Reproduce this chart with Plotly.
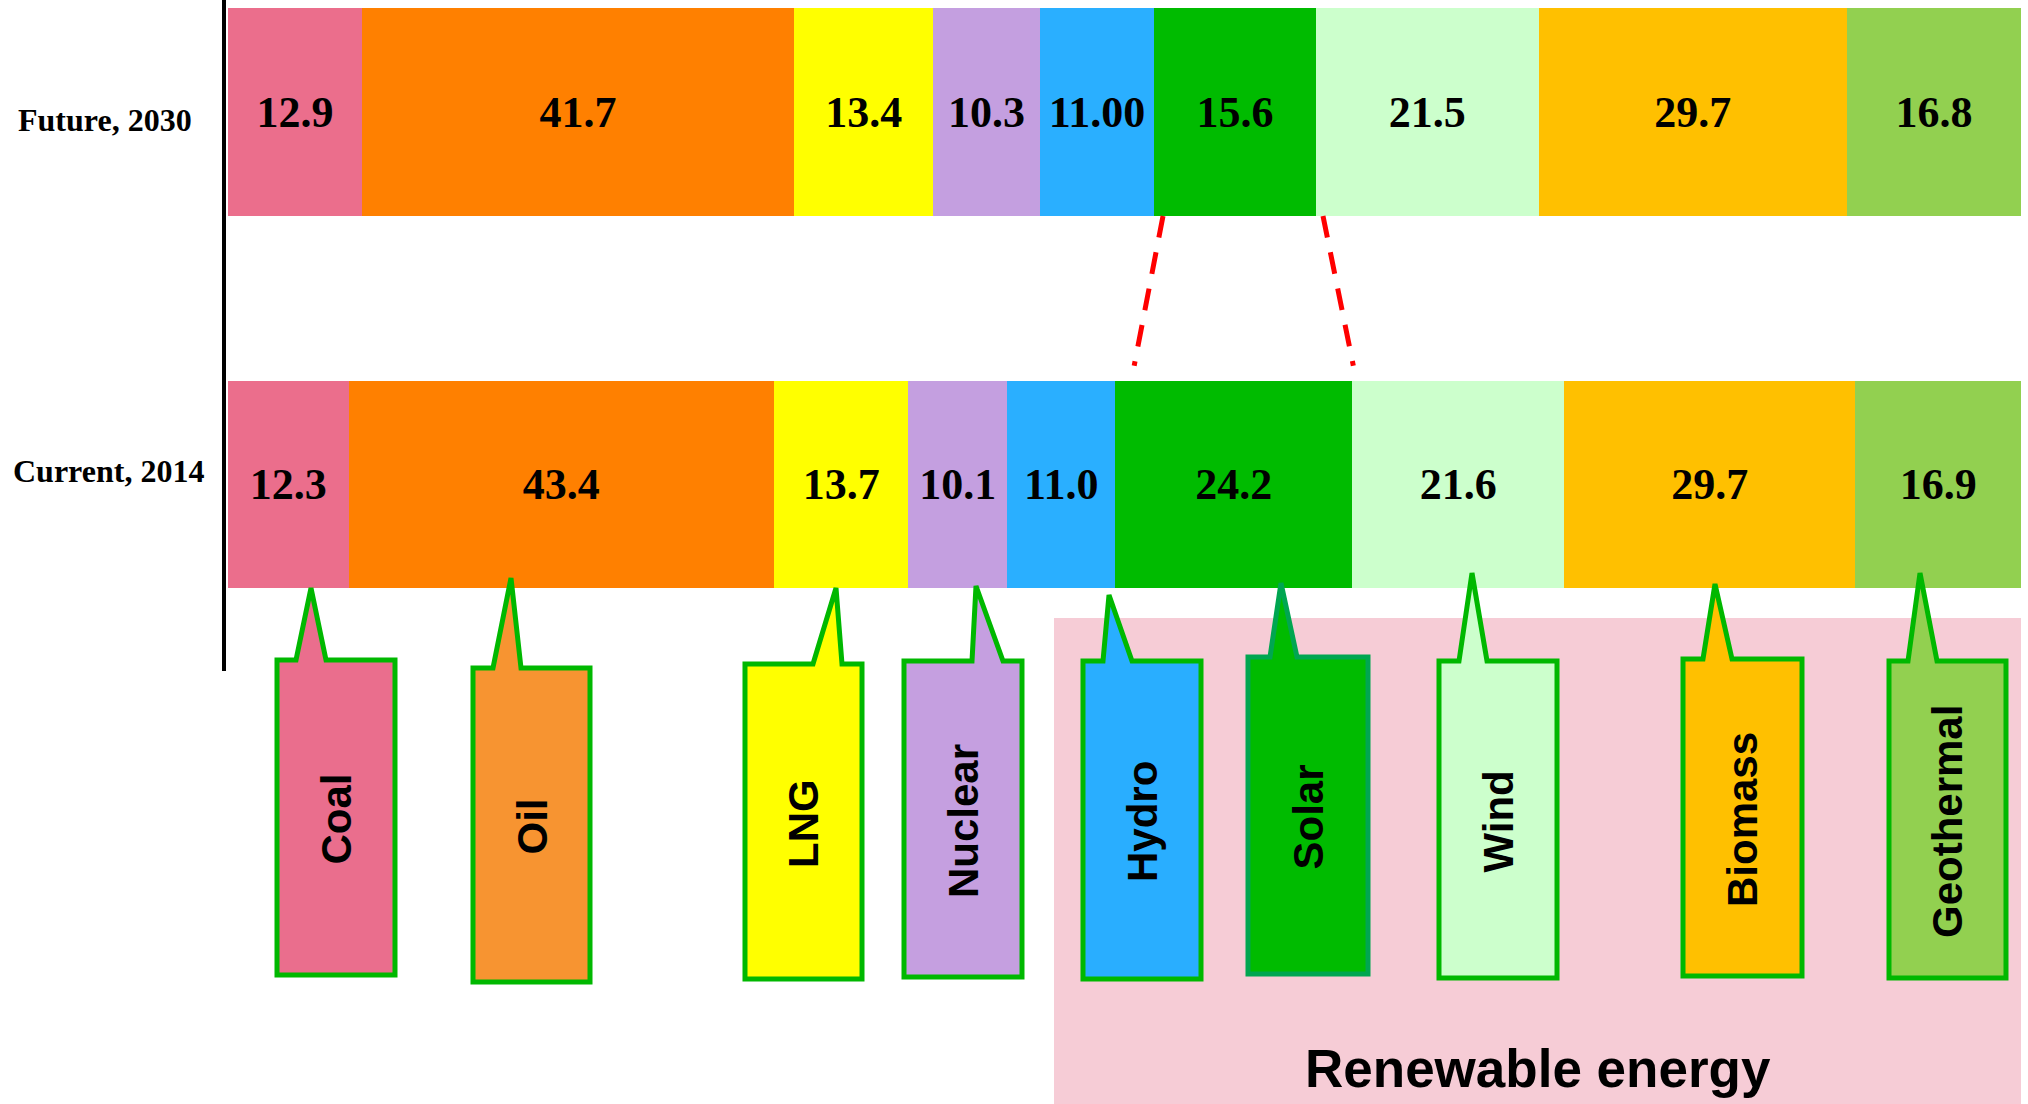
import plotly.graph_objects as go

# Energy mix: share of each source, current (2014) vs future (2030)
sources = ["Coal", "Oil", "LNG", "Nuclear", "Hydro", "Solar", "Wind", "Biomass", "Geothermal"]
current_labels = ["12.3", "43.4", "13.7", "10.1", "11.0", "24.2", "21.6", "29.7", "16.9"]
future_labels = ["12.9", "41.7", "13.4", "10.3", "11.00", "15.6", "21.5", "29.7", "16.8"]
row_names = ["Current, 2014", "Future, 2030"]

current_values = [float(v) for v in current_labels]
future_values = [float(v) for v in future_labels]

bar_colors = ["#EB6E8C", "#FF8000", "#FFFF00", "#C49FE0", "#2AAFFF",
              "#00BB00", "#CCFFCC", "#FFC000", "#92D050"]
box_colors = ["#EA6E8D", "#F79431", "#FFFF00", "#C59FE0", "#29AEFF",
              "#00BB00", "#CCFFCC", "#FFC000", "#92D050"]

W, H = 2028, 1104
L, R = 228, 2021
BAR_W = 0.558
Y_RANGE = [-1.663, 1.3007]


def px(x):
    return (x - L) / (R - L)


def py(y):
    return 1 - y / H


fig = go.Figure()
for i, name in enumerate(sources):
    fig.add_trace(go.Bar(
        name=name,
        orientation="h",
        y=[0, 1],
        x=[current_values[i], future_values[i]],
        width=BAR_W,
        marker=dict(color=bar_colors[i], line=dict(width=0)),
        text=[current_labels[i], future_labels[i]],
        textposition="inside",
        insidetextanchor="middle",
        textangle=0,
        textfont=dict(family="Liberation Serif", size=44, color="black", weight="bold"),
        hoverinfo="skip",
    ))

shapes = []
annotations = []

# renewable-energy panel
shapes.append(dict(type="rect", xref="paper", yref="paper",
                   x0=px(1054), x1=px(2021), y0=py(618), y1=py(1104),
                   fillcolor="#F6CCD6", line=dict(width=0), layer="below"))
annotations.append(dict(text="<b>Renewable energy</b>", xref="paper", yref="paper",
                        x=px(1538), y=py(1068), showarrow=False,
                        font=dict(family="Liberation Sans", size=53, color="black"),
                        xanchor="center", yanchor="middle"))

# left axis line
shapes.append(dict(type="line", xref="paper", yref="paper",
                   x0=px(224), x1=px(224), y0=1, y1=py(671),
                   line=dict(color="black", width=4), layer="above"))

# row labels
row_label_pos = [(109, 471), (105, 120)]
for name, (lx, ly) in zip(row_names, row_label_pos):
    annotations.append(dict(text=f"<b>{name}</b>", xref="paper", yref="paper",
                            x=px(lx), y=py(ly), showarrow=False,
                            font=dict(family="Liberation Serif", size=32, color="black"),
                            xanchor="center", yanchor="middle"))

# callout boxes: (left, right, top, bottom, tip_x, tip_y, base_left, base_right)
callouts = [
    (277, 395, 660, 975, 311, 588, 296, 326),
    (473, 590, 668, 982, 511, 578, 493, 521),
    (745, 862, 664, 979, 836, 588, 813, 842),
    (904, 1022, 661, 977, 976, 586, 972, 1003),
    (1083, 1201, 661, 979, 1109, 595, 1103, 1132),
    (1248, 1368, 657, 974, 1281, 583, 1270, 1297),
    (1439, 1557, 661, 978, 1472, 573, 1459, 1487),
    (1683, 1802, 659, 976, 1715, 584, 1703, 1732),
    (1889, 2006, 661, 978, 1920, 573, 1908, 1937),
]
for i, (x0, x1, yt, yb, tx, ty, bl, br) in enumerate(callouts):
    pts = [(x0, yb), (x0, yt), (bl, yt), (tx, ty), (br, yt), (x1, yt), (x1, yb)]
    path = "M " + " L ".join(f"{px(a):.5f},{py(b):.5f}" for a, b in pts) + " Z"
    shapes.append(dict(type="path", xref="paper", yref="paper", path=path,
                       fillcolor=box_colors[i],
                       line=dict(color="#00B800" if sources[i] != "Solar" else "#00A651", width=5),
                       layer="above"))
    annotations.append(dict(text=f"<b>{sources[i]}</b>", xref="paper", yref="paper",
                            x=px((x0 + x1) / 2), y=py((yt + yb) / 2 + 2), showarrow=False,
                            textangle=-90,
                            font=dict(family="Liberation Sans", size=42, color="black"),
                            xanchor="center", yanchor="middle"))

# dashed connectors between the solar segments of both rows
cur_total = sum(current_values)
fut_total = sum(future_values)
solar = sources.index("Solar")
cur_left = sum(current_values[:solar]) / cur_total * 100
cur_right = sum(current_values[:solar + 1]) / cur_total * 100
fut_left = sum(future_values[:solar]) / fut_total * 100
fut_right = sum(future_values[:solar + 1]) / fut_total * 100
half = BAR_W / 2
for (xa, xb) in [(fut_left + 0.5, cur_left + 1.06), (fut_right + 0.4, cur_right + 0.05)]:
    shapes.append(dict(type="line", xref="x", yref="y",
                       x0=xa, y0=1 - half, x1=xb, y1=half + 0.04,
                       line=dict(color="#FF0000", width=5, dash="22px,15px"),
                       layer="above"))

fig.update_layout(
    width=W, height=H,
    margin=dict(l=L, r=W - R, t=0, b=0),
    barmode="stack",
    barnorm="percent",
    showlegend=False,
    paper_bgcolor="white",
    plot_bgcolor="rgba(0,0,0,0)",
    xaxis=dict(range=[0, 100], visible=False, fixedrange=True),
    yaxis=dict(range=Y_RANGE, visible=False, fixedrange=True),
    shapes=shapes,
    annotations=annotations,
    uniformtext=dict(mode=False),
)

fig.write_html("out.html")
